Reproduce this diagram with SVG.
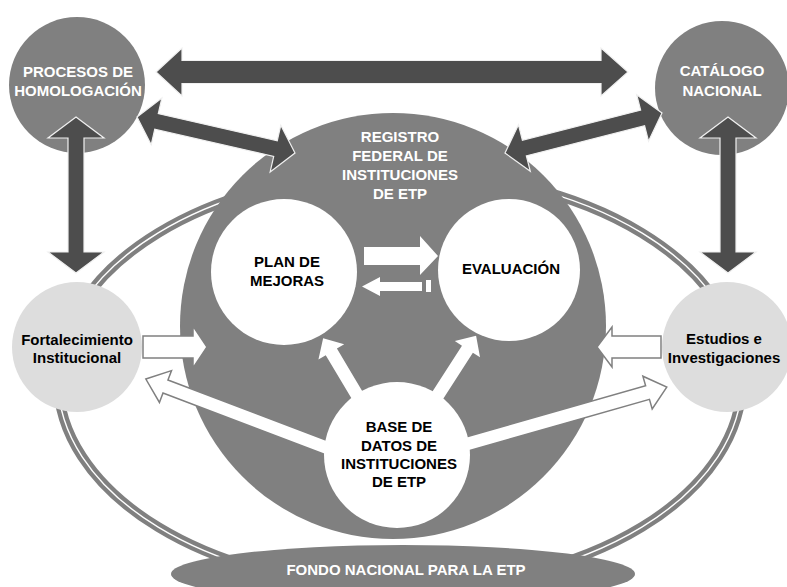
<svg xmlns="http://www.w3.org/2000/svg" width="787" height="587" viewBox="0 0 787 587">
<style>
.t{font-family:"Liberation Sans",Arial,sans-serif;font-weight:bold;font-size:15px;text-anchor:middle}
.w{fill:#ffffff}
.k{fill:#000000}
.gray{fill:#808080}
.light{fill:#dddddd}
.dark{fill:#4d4d4d;stroke:#f0f0f0;stroke-width:1.2;stroke-linejoin:miter}
.wa{fill:#ffffff;stroke:#808080;stroke-width:1.5;stroke-linejoin:miter}
.wb{fill:#ffffff}
</style>
<rect width="787" height="587" fill="#ffffff"/>
<g id="ring">
<ellipse cx="400" cy="380" rx="342" ry="208" fill="none" stroke="#808080" stroke-width="10"/>
<ellipse cx="400" cy="380" rx="342" ry="208" fill="none" stroke="#ffffff" stroke-width="1.4"/>
</g>
<g id="registro">
<circle cx="393" cy="326" r="213" class="gray"/>
<text class="t w" x="400" y="142">REGISTRO</text>
<text class="t w" x="400" y="161">FEDERAL DE</text>
<text class="t w" x="400" y="180">INSTITUCIONES</text>
<text class="t w" x="400" y="199">DE ETP</text>
</g>
<g id="procesos">
<circle cx="77" cy="85" r="68" class="gray"/>
<text class="t w" x="78" y="77">PROCESOS DE</text>
<text class="t w" x="78" y="96">HOMOLOGACIÓN</text>
</g>
<g id="catalogo">
<circle cx="722" cy="88" r="67" class="gray"/>
<text class="t w" x="722" y="76">CATÁLOGO</text>
<text class="t w" x="722" y="96">NACIONAL</text>
</g>
<g id="fortalecimiento">
<circle cx="77" cy="347" r="65" class="light"/>
<text class="t k" x="77" y="345">Fortalecimiento</text>
<text class="t k" x="77" y="363">Institucional</text>
</g>
<g id="estudios">
<circle cx="727" cy="347" r="65" class="light"/>
<text class="t k" x="724" y="344">Estudios e</text>
<text class="t k" x="724" y="363">Investigaciones</text>
</g>
<g id="plan">
<circle cx="284" cy="272" r="73" class="w"/>
<text class="t k" x="287" y="267">PLAN DE</text>
<text class="t k" x="287" y="286">MEJORAS</text>
</g>
<g id="evaluacion">
<circle cx="509" cy="270" r="71" class="w"/>
<text class="t k" x="511" y="274">EVALUACIÓN</text>
</g>
<g id="fondo">
<ellipse cx="403" cy="574" rx="232" ry="29" class="gray"/>
<text class="t w" x="406" y="575">FONDO NACIONAL PARA LA ETP</text>
</g>
<g id="connectors">
<polygon class="dark" points="156,72 182,48 182,60.5 601,60.5 601,48 628,72 601,96 601,83.5 182,83.5 182,96"/>
<polygon class="dark" points="76,117 104,138 84,138 84,252 104,252 76,273 48,252 68,252 68,138 48,138"/>
<polygon class="dark" points="728,117 756,138 736,138 736,252 756,252 728,273 700,252 720,252 720,138 700,138"/>
<polygon class="dark" transform="translate(216,135) rotate(12.84)" points="-81,0 -61,-24 -61,-8 61,-8 61,-24 81,0 61,24 61,8 -61,8 -61,24"/>
<polygon class="dark" transform="translate(583.5,133) rotate(-14.3)" points="-81,0 -61,-24 -61,-8 61,-8 61,-24 81,0 61,24 61,8 -61,8 -61,24"/>
<polygon class="wa" points="143,336 193,336 193,326 207,347 193,368 193,358 143,358"/>
<polygon class="wa" points="661,336 612,336 612,327 597,347 612,367 612,358 661,358"/>
<polygon class="wa" transform="translate(330,449) rotate(200.8)" points="0,-7 176,-7 176,-17 197,0 176,17 176,7 0,7"/>
<polygon class="wa" transform="translate(460,446) rotate(-15.9)" points="0,-7 195,-7 195,-17 215,0 195,17 195,7 0,7"/>
<polygon class="wb" transform="translate(360,400) rotate(-120.8)" points="0,-6.5 56,-6.5 56,-15 72,0 56,15 56,6.5 0,6.5"/>
<polygon class="wb" transform="translate(436,398) rotate(-57.2)" points="0,-6.5 58,-6.5 58,-15 74,0 58,15 58,6.5 0,6.5"/>
<polygon class="wb" points="364,247 420,247 420,236 438,256 420,275 420,265 364,265"/>
<polygon class="wb" points="362,286.5 380,277 380,282 422,282 422,291 380,291 380,296"/>
<rect class="wb" x="426" y="280" width="5" height="12"/>
</g>
<g id="base">
<circle cx="397" cy="455" r="73" class="w"/>
<text class="t k" x="399" y="432">BASE DE</text>
<text class="t k" x="399" y="451">DATOS DE</text>
<text class="t k" x="399" y="469">INSTITUCIONES</text>
<text class="t k" x="399" y="487">DE ETP</text>
</g>
</svg>
